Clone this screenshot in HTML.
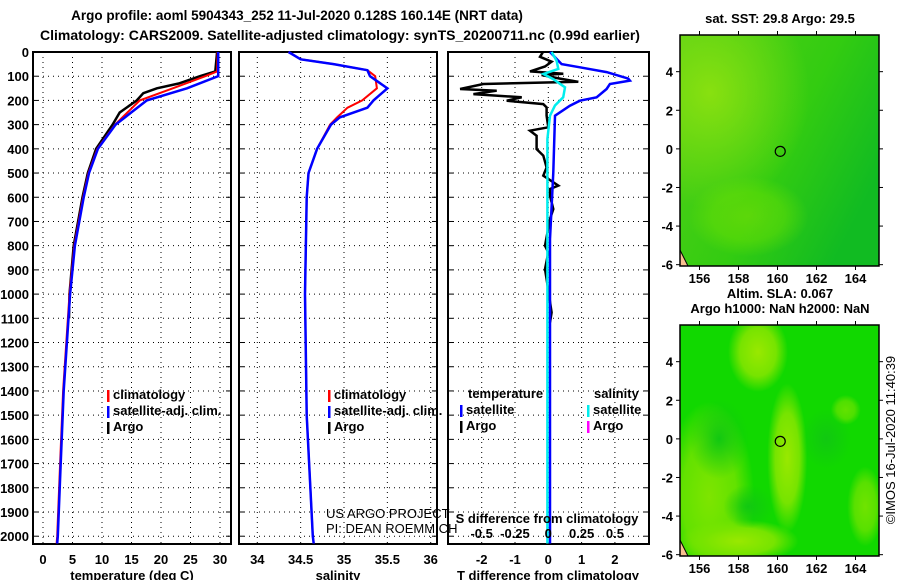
<!DOCTYPE html>
<html><head><meta charset="utf-8"><style>
html,body{margin:0;padding:0;background:#fff;}
svg{display:block;font-family:"Liberation Sans",sans-serif;}
.b{font-weight:bold;font-size:14px;}
.t{font-weight:bold;font-size:13px;}
</style></head><body>
<svg id="c" width="900" height="580" viewBox="0 0 900 580" xmlns="http://www.w3.org/2000/svg">
<defs>
<radialGradient id="g1" cx="0.15" cy="0.25" r="0.5"><stop offset="0" stop-color="#88e010"/><stop offset="1" stop-color="#88e010" stop-opacity="0"/></radialGradient>
<linearGradient id="g1b" x1="0" y1="0" x2="1" y2="0.6"><stop offset="0" stop-color="#55d018"/><stop offset="0.6" stop-color="#33cc11"/><stop offset="1" stop-color="#11bb22"/></linearGradient>
<radialGradient id="g2" cx="0.5" cy="0.5" r="0.5"><stop offset="0" stop-color="#99e800"/><stop offset="0.6" stop-color="#77e400"/><stop offset="1" stop-color="#77e400" stop-opacity="0"/></radialGradient>
<radialGradient id="g3" cx="0.5" cy="0.5" r="0.5"><stop offset="0" stop-color="#11c811"/><stop offset="1" stop-color="#11c811" stop-opacity="0"/></radialGradient>
<clipPath id="clip1"><rect x="680" y="35" width="199" height="231"/></clipPath>
<clipPath id="clip2"><rect x="680" y="325" width="199" height="231"/></clipPath>
</defs>
<g id="titles">
<text class="b" x="297" y="20" text-anchor="middle" style="font-size:13.5px">Argo profile: aoml 5904343_252 11-Jul-2020 0.128S 160.14E (NRT data)</text>
<text class="b" x="340" y="40" text-anchor="middle">Climatology: CARS2009. Satellite-adjusted climatology: synTS_20200711.nc (0.99d earlier)</text>
</g>
<g id="p1"></g>
<g id="p2"></g>
<g id="p3"></g>
<g id="m1"></g>
<g id="m2"></g>
<text class="t" x="0" y="0" transform="translate(895,440) rotate(-90)" text-anchor="middle" style="font-weight:normal">©IMOS 16-Jul-2020 11:40:39</text>
</svg>
<script>
// depth tick labels
const depthTicks = [0,100,200,300,400,500,600,700,800,900,1000,1100,1200,1300,1400,1500,1600,1700,1800,1900,2000];
const tempTicks = [0,5,10,15,20,25,30];
const salTicks = [34,34.5,35,35.5,36];
const dTTicks = [-2,-1,0,1,2];
const dSTicks = [-0.5,-0.25,0,0.25,0.5];
// temperature profiles
const tDepth   = [0,80,100,150,200,300,400,500,600,800,1000,1400,1700,2000,2030];
const tClim    = [29.6,29.5,27.5,22,16.4,12.2,9.2,7.7,6.8,5.3,4.5,3.4,2.9,2.4,2.3];
const tSat     = [29.7,29.7,29.7,24.4,17.6,12.3,9.3,7.8,6.9,5.4,4.6,3.5,3.0,2.5,2.4];
const argoTDepth = [0,80,100,130,150,170,200,250,300,400,500,600,800,1000,1100];
const argoT      = [29.5,29.2,26.6,23,19.3,17,15.9,13,11.8,9.0,7.6,6.7,5.2,4.5,4.4];
// salinity profiles
const sDepth = [0,30,50,75,100,150,200,230,270,300,400,500,600,1000,1500,2000,2030];
const sClim  = [34.36,34.5,34.88,35.27,35.36,35.38,35.21,35.04,34.92,34.84,34.69,34.59,34.57,34.55,34.57,34.64,34.65];
const sSat   = [34.36,34.5,34.88,35.27,35.3,35.5,35.34,35.27,34.95,34.85,34.69,34.59,34.57,34.55,34.57,34.64,34.65];
// differences
const dArgoDepth = [0,20,40,60,80,90,95,110,123,132,153,160,174,187,201,215,229,263,311,325,346,401,428,477,511,552,566,594,649,690,800,828,897,938,1076,1117];
const dArgoT     = [-0.16,-0.25,0.1,-0.1,-0.55,0.45,-0.2,0.35,0.9,-1.95,-2.65,-1.55,-2.25,-0.8,-1.25,-0.15,-0.05,-0.05,0,-0.55,-0.35,-0.35,-0.15,-0.05,-0.15,0.3,0.05,0.05,0.15,0.05,-0.1,0,-0.1,-0.05,0.1,0.05];
const dSatDepth = [0,50,63,83,110,118,132,153,187,201,222,263,497,773,1186,2030];
const dSatT     = [0.05,0.4,0.95,1.75,2.4,2.45,1.85,1.75,1.45,0.95,0.65,0.2,0.15,0.05,0.05,0.05];
const dSatSDepth = [0,36,70,91,112,146,187,221,263,359,2030];
const dSatS      = [0.025,0.062,0.075,-0.037,0.037,0.125,0.112,0.05,0.013,-0.007,-0.007];
// map ticks
const lonTicks = [156,158,160,162,164];
const latTicks = [4,2,0,-2,-4,-6];
const argoLon = 160.14, argoLat = -0.128;

const NS='http://www.w3.org/2000/svg';
function mk(tag,attrs,parent,txt){const e=document.createElementNS(NS,tag);for(const k in attrs)e.setAttribute(k,attrs[k]);if(txt!==undefined)e.textContent=txt;parent.appendChild(e);return e;}
const yD=d=>52+d*0.2421;
const xT=t=>43+t*5.9;
const xS=s=>257.3+(s-34)*86.7;
const xdT=v=>548.3+v*33.3;
const xdS=v=>548.3+v*133.3;
const Y0=52,Y1=544;

function frame(g,x0,x1,xticks,xf,labels){
  depthTicks.forEach(d=>{const y=yD(d);
    const l=mk('line',{x1:x0,x2:x1,y1:y,y2:y,stroke:'#000','stroke-width':1,'stroke-dasharray':'1,4'},g);
    
    mk('line',{x1:x0,x2:x0+5,y1:y,y2:y,stroke:'#000'},g);mk('line',{x1:x1-5,x2:x1,y1:y,y2:y,stroke:'#000'},g);});
  xticks.forEach((v,i)=>{const x=xf(v);
    const l=mk('line',{x1:x,x2:x,y1:Y0,y2:Y1,stroke:'#000','stroke-width':1,'stroke-dasharray':'1,4'},g);
    
    if(labels){const t=mk('text',{x:x,y:564,'text-anchor':'middle',class:'t'},g,String(v));
      }});
  const r=mk('rect',{x:x0,y:Y0,width:x1-x0,height:Y1-Y0,fill:'none',stroke:'#000','stroke-width':2},g);
  
}
function line(g,xs,ds,xf,col,w,name){
  const p=xs.map((v,i)=>xf(v).toFixed(1)+','+yD(ds[i]).toFixed(1)).join(' ');
  const e=mk('polyline',{points:p,fill:'none',stroke:col,'stroke-width':w},g);
  
}
function legend(g,x,y,col,txt){
  mk('rect',{x:x,y:y-9,width:2.5,height:12,fill:col},g);
  const t=mk('text',{x:x+6,y:y,class:'t'},g,txt);
  
}
// panel 1
const p1=document.getElementById('p1');
frame(p1,33,231,tempTicks,xT,true);
depthTicks.forEach(d=>{const t=mk('text',{x:29,y:yD(d)+5,'text-anchor':'end',class:'t'},p1,String(d));
  });
line(p1,argoT,argoTDepth,xT,'#000',2.5,'argo-temperature-line');
line(p1,tClim,tDepth,xT,'#f00',2,'climatology-temperature-line');
line(p1,tSat,tDepth,xT,'#00f',2.5,'satellite-temperature-line');
legend(p1,107,399,'#f00','climatology');legend(p1,107,415,'#00f','satellite-adj. clim.');legend(p1,107,431,'#000','Argo');
let at=mk('text',{x:132,y:580,'text-anchor':'middle',class:'t'},p1,'temperature (deg C)');

// panel 2
const p2=document.getElementById('p2');
frame(p2,239,437,salTicks,xS,true);
line(p2,sClim,sDepth,xS,'#f00',2,'climatology-salinity-line');
line(p2,sSat,sDepth,xS,'#00f',2.5,'satellite-salinity-line');
legend(p2,328,399,'#f00','climatology');legend(p2,328,415,'#00f','satellite-adj. clim.');legend(p2,328,431,'#000','Argo');
at=mk('text',{x:338,y:580,'text-anchor':'middle',class:'t'},p2,'salinity');

let tx=mk('text',{x:326,y:518,'font-size':'13'},p2,'US ARGO PROJECT');

tx=mk('text',{x:326,y:533,'font-size':'13'},p2,'PI: DEAN ROEMMICH');

// panel 3
const p3=document.getElementById('p3');
frame(p3,448,649,dTTicks,xdT,true);
line(p3,dArgoT,dArgoDepth,xdT,'#000',2.5,'argo-temperature-difference-line');
line(p3,dSatT,dSatDepth,xdT,'#00f',2.5,'satellite-temperature-difference-line');
line(p3,dSatS,dSatSDepth,xdS,'#0ee',2.5,'satellite-salinity-difference-line');
tx=mk('text',{x:468,y:398,class:'t'},p3,'temperature');
tx=mk('text',{x:594,y:398,class:'t'},p3,'salinity');
legend(p3,460,414,'#00f','satellite');legend(p3,460,430,'#000','Argo');
legend(p3,587,414,'#0ee','satellite');legend(p3,587,430,'#f0f','Argo');
tx=mk('text',{x:547,y:523,'text-anchor':'middle',class:'t'},p3,'S difference from climatology');

dSTicks.forEach(v=>{const t=mk('text',{x:xdS(v),y:538,'text-anchor':'middle',class:'t'},p3,String(v));
  });
at=mk('text',{x:548,y:580,'text-anchor':'middle',class:'t'},p3,'T difference from climatology');

// maps
function map(g,top,title,sub,kind){
  const x0=680,x1=879,h=231;
  const lx=v=>680+(v-155)*19.5, ly=v=>top+(5.9-v)*19.3;
  const f=mk('g',{'clip-path':kind===1?'url(#clip1)':'url(#clip2)'},g);
  
  
  if(kind===1){
    mk('rect',{x:x0,y:top,width:x1-x0,height:h,fill:'url(#g1b)'},f);
    mk('rect',{x:x0,y:top,width:x1-x0,height:h,fill:'url(#g1)'},f);
    mk('ellipse',{cx:lx(158.5),cy:ly(-3.5),rx:60,ry:40,fill:'url(#g2)',opacity:0.4},f);
  } else {
    mk('rect',{x:x0,y:top,width:x1-x0,height:h,fill:'#11d800'},f);
    mk('ellipse',{cx:lx(156.5),cy:ly(-3),rx:45,ry:95,fill:'url(#g2)',opacity:0.8},f);
    mk('ellipse',{cx:lx(159),cy:ly(4.5),rx:30,ry:40,fill:'url(#g2)'},f);
    mk('ellipse',{cx:lx(160.5),cy:ly(-1),rx:20,ry:75,fill:'url(#g2)'},f);
    mk('ellipse',{cx:lx(158),cy:ly(-5.3),rx:60,ry:22,fill:'url(#g2)'},f);
    mk('ellipse',{cx:lx(164.5),cy:ly(-3.5),rx:18,ry:40,fill:'url(#g2)',opacity:0.7},f);
    mk('ellipse',{cx:lx(163.5),cy:ly(1.5),rx:15,ry:15,fill:'url(#g2)',opacity:0.6},f);
    mk('ellipse',{cx:lx(157),cy:ly(0),rx:30,ry:40,fill:'url(#g3)'},f);
    mk('ellipse',{cx:lx(158.5),cy:ly(-3.5),rx:25,ry:22,fill:'url(#g3)'},f);
    mk('ellipse',{cx:lx(162.5),cy:ly(0),rx:25,ry:30,fill:'url(#g3)'},f);
  }
  mk('path',{d:`M${x0},${top+h-16} L${x0+8},${top+h} L${x0},${top+h} Z`,fill:'#f8c090',stroke:'#000'},g);
  const c=mk('circle',{cx:lx(argoLon),cy:ly(argoLat),r:5,fill:'none',stroke:'#000','stroke-width':1.2},g);
  
  const r=mk('rect',{x:x0,y:top,width:x1-x0,height:h,fill:'none',stroke:'#000','stroke-width':1.5},g);
  
  lonTicks.forEach(v=>{const x=lx(v);mk('line',{x1:x,x2:x,y1:top+h,y2:top+h+4,stroke:'#000'},g);mk('line',{x1:x,x2:x,y1:top-4,y2:top,stroke:'#000'},g);
    const t=mk('text',{x:x,y:top+h+17,'text-anchor':'middle',class:'t'},g,String(v));
    });
  latTicks.forEach(v=>{const y=ly(v);mk('line',{x1:x0-4,x2:x0,y1:y,y2:y,stroke:'#000'},g);mk('line',{x1:x1,x2:x1+4,y1:y,y2:y,stroke:'#000'},g);
    const t=mk('text',{x:673,y:y+5,'text-anchor':'end',class:'t'},g,String(v));
    });
  let t=mk('text',{x:780,y:top-12,'text-anchor':'middle',class:'t'},g,title);
  
  if(sub){t=mk('text',{x:780,y:top-27,'text-anchor':'middle',class:'t'},g,sub);
    }
}
map(document.getElementById('m1'),35,'sat. SST: 29.8 Argo: 29.5',null,1);
map(document.getElementById('m2'),325,'Argo h1000: NaN h2000: NaN','Altim. SLA: 0.067',2);
</script>
</body></html>
